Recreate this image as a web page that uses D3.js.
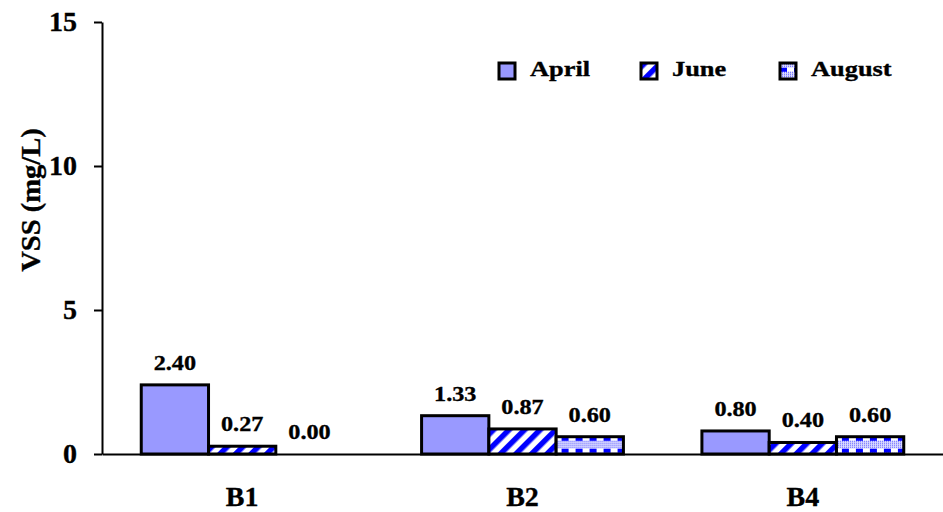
<!DOCTYPE html>
<html>
<head>
<meta charset="utf-8">
<script src="https://cdn.jsdelivr.net/npm/d3@7"></script>
<style>
  html, body { margin: 0; padding: 0; background: #fff; }
  svg { display: block; }
  text { font-family: "Liberation Serif", "Times New Roman", Times, serif; font-weight: bold; fill: #000; stroke: #000; stroke-width: 0.35px; }
</style>
</head>
<body>
<svg id="chart" width="943" height="512"></svg>
<script>
// Sampling sites and months
const categories = ["B1", "B2", "B4"];
const seriesNames = ["April", "June", "August"];
// VSS (mg/L) per site, one array per month
const april = [2.40, 1.33, 0.80];
const june = [0.27, 0.87, 0.40];
const august = [0.00, 0.60, 0.60];
const yTicks = [0, 5, 10, 15];

const seriesValues = [april, june, august];
const plotLeft = 102, plotRight = 943, plotTop = 22, plotBottom = 454;

const svg = d3.select("#chart");
const defs = svg.append("defs");

const x0 = d3.scaleBand().domain(categories).range([plotLeft, plotRight])
  .paddingInner(0.28).paddingOuter(0.14);
const x1 = d3.scaleBand().domain(seriesNames).range([0, x0.bandwidth()]);
const y = d3.scaleLinear().domain([0, 15]).range([plotBottom, plotTop]);

// June: blue diagonal stripes
const stripes = defs.append("pattern")
  .attr("id", "pat-june").attr("patternUnits", "userSpaceOnUse")
  .attr("width", 11).attr("height", 11)
  .attr("patternTransform", "rotate(45)");
stripes.append("rect").attr("width", 11).attr("height", 11).attr("fill", "#fff");
stripes.append("rect").attr("width", 5.5).attr("height", 11).attr("fill", "#0000ff");

// August: rows of blue checks over a fine lavender dot grid
const augTile = 12;
const dots = defs.append("pattern")
  .attr("id", "pat-aug").attr("patternUnits", "userSpaceOnUse")
  .attr("width", 14).attr("height", augTile)
  .attr("y", y(d3.max(august)) - augTile);
dots.append("rect").attr("width", 14).attr("height", augTile).attr("fill", "#dcdcff");
for (let i = 0; i < 14; i += 2) {
  for (let j = 0; j < augTile; j += 2) {
    dots.append("rect").attr("x", i).attr("y", j).attr("width", 1).attr("height", 1).attr("fill", "#5a5aff");
  }
}
dots.append("rect").attr("x", 0).attr("y", 0).attr("width", 7).attr("height", 4).attr("fill", "#0000ff");
dots.append("rect").attr("x", 7).attr("y", 0).attr("width", 7).attr("height", 4).attr("fill", "#fff");

const fills = ["#9999ff", "url(#pat-june)", "url(#pat-aug)"];

// Bars
const groups = svg.append("g").selectAll("g")
  .data(categories).join("g")
  .attr("transform", c => `translate(${x0(c)},0)`);

groups.selectAll("rect")
  .data((c, ci) => seriesNames.map((s, si) => ({ s, si, v: seriesValues[si][ci] })))
  .join("rect")
  .attr("x", d => x1(d.s))
  .attr("y", d => y(d.v))
  .attr("width", x1.bandwidth())
  .attr("height", d => y(0) - y(d.v))
  .attr("fill", d => fills[d.si])
  .attr("stroke", "#000")
  .attr("stroke-width", 3);

// Value labels
groups.selectAll("text")
  .data((c, ci) => seriesNames.map((s, si) => ({ s, si, v: seriesValues[si][ci] })))
  .join("text")
  .attr("text-anchor", "middle")
  .attr("font-size", 22)
  .attr("transform", d => `translate(${x1(d.s) + x1.bandwidth() / 2},${y(d.v) - 15}) scale(1.1,1)`)
  .text(d => d.v.toFixed(2));

// Y axis
const yAxis = svg.append("g")
  .attr("transform", `translate(${plotLeft},0)`)
  .call(d3.axisLeft(y).tickValues(yTicks).tickSize(8).tickPadding(17).tickSizeOuter(0));
yAxis.select(".domain").attr("stroke", "#000").attr("stroke-width", 2);
yAxis.selectAll(".tick line").attr("stroke", "#000").attr("stroke-width", 2);
yAxis.selectAll(".tick text")
  .attr("font-size", 28)
  .attr("font-family", null)
  .attr("fill", "#000");

// X axis: baseline with category labels
const xAxis = svg.append("g")
  .attr("transform", `translate(0,${plotBottom})`)
  .call(d3.axisBottom(x0).tickSize(0).tickPadding(0).tickSizeOuter(0));
xAxis.select(".domain").attr("stroke", "#000").attr("stroke-width", 2);
xAxis.selectAll(".tick text")
  .attr("font-size", 28)
  .attr("fill", "#000")
  .attr("dy", null)
  .attr("y", 52);

// Y axis title
svg.append("text")
  .attr("text-anchor", "middle")
  .attr("font-size", 28)
  .attr("transform", `translate(40,200) rotate(-90) scale(1.02,1)`)
  .text("VSS (mg/L)");

// Legend
const legendX = [499, 641, 780];
const legend = svg.append("g").selectAll("g")
  .data(seriesNames).join("g")
  .attr("transform", (d, i) => `translate(${legendX[i]},63)`);
legend.append("rect")
  .attr("width", 16).attr("height", 16)
  .attr("fill", (d, i) => fills[i])
  .attr("stroke", "#000").attr("stroke-width", 3);
legend.append("text")
  .attr("font-size", 22)
  .attr("transform", `translate(31,13) scale(1.2,1)`)
  .text(d => d);
</script>
</body>
</html>
